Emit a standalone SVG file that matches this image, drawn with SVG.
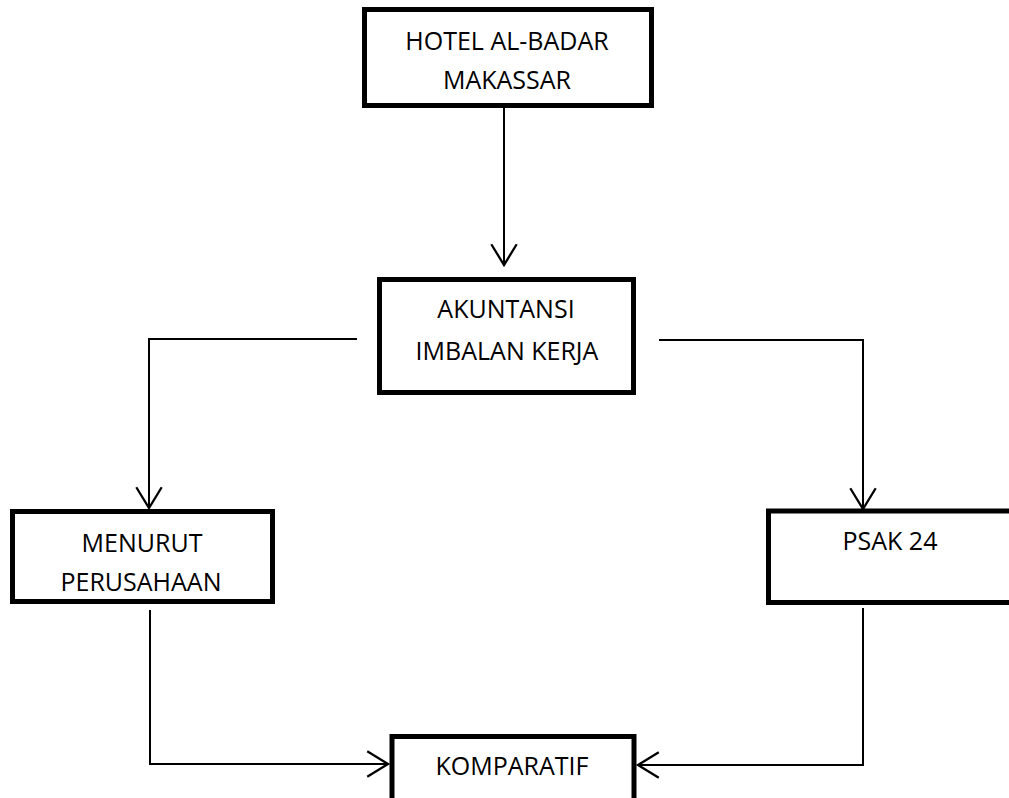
<svg xmlns="http://www.w3.org/2000/svg" width="1009" height="798" viewBox="0 0 1009 798">
  <defs>
    <marker id="arrow" markerUnits="userSpaceOnUse" markerWidth="30" markerHeight="30" viewBox="-20 -13 22 26" refX="0" refY="0" orient="auto">
      <path d="M -18 -11 L 0 0 L -18 11" fill="none" stroke="#000" stroke-width="2"/>
    </marker>
    <style>
      .box { fill: #fff; stroke: #000; stroke-width: 5; }
      .lbl { font-family: "Open Sans", "Noto Sans", sans-serif; font-size: 25px; fill: #000; text-anchor: middle; }
      .conn { fill: none; stroke: #000; stroke-width: 2; }
    </style>
  </defs>
  <rect width="1009" height="798" fill="#fff"/>

  <g id="connectors">
    <path class="conn" d="M 504 108 L 504 265" marker-end="url(#arrow)"/>
    <path class="conn" d="M 357 339 L 149 339 L 149 508" marker-end="url(#arrow)"/>
    <path class="conn" d="M 659 340 L 863 340 L 863 509" marker-end="url(#arrow)"/>
    <path class="conn" d="M 150 610 L 150 764 L 388 764" marker-end="url(#arrow)"/>
    <path class="conn" d="M 863 608 L 863 765 L 638 765" marker-end="url(#arrow)"/>
  </g>

  <g id="node-hotel">
    <rect class="box" x="364.5" y="9.5" width="287" height="96"/>
    <text class="lbl" x="507" y="50">HOTEL AL-BADAR</text>
    <text class="lbl" x="507" y="89">MAKASSAR</text>
  </g>

  <g id="node-akuntansi">
    <rect class="box" x="379.5" y="279.5" width="254" height="113"/>
    <text class="lbl" x="506" y="318">AKUNTANSI</text>
    <text class="lbl" x="507" y="360">IMBALAN KERJA</text>
  </g>

  <g id="node-menurut">
    <rect class="box" x="12.5" y="511.5" width="260" height="90"/>
    <text class="lbl" x="142" y="552">MENURUT</text>
    <text class="lbl" x="141" y="591">PERUSAHAAN</text>
  </g>

  <g id="node-psak">
    <rect class="box" x="768.5" y="511" width="260" height="91.5"/>
    <text class="lbl" x="890" y="550">PSAK 24</text>
  </g>

  <g id="node-komparatif">
    <rect class="box" x="392" y="736.5" width="242" height="80"/>
    <text class="lbl" x="512" y="775">KOMPARATIF</text>
  </g>
</svg>
